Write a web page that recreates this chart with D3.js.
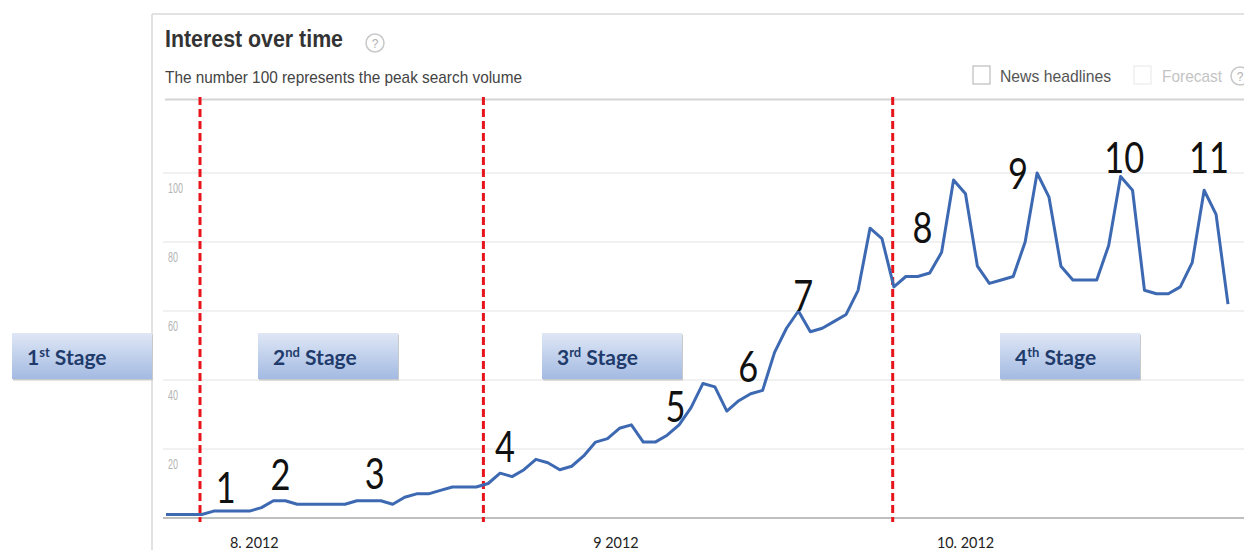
<!DOCTYPE html>
<html>
<head>
<meta charset="utf-8">
<script src="https://cdn.jsdelivr.net/npm/d3@7"></script>
<style>
  body { margin: 0; background: #fff; }
  svg { display: block; }
</style>
</head>
<body>
<div id="chart"></div>
<script>
// daily search interest, day 0 = 29 Jul 2012
const values = [
    1, 1, 1, 1, 2, 2, 2, 2, 3, 5,
    5, 4, 4, 4, 4, 4, 5, 5, 5, 4,
    6, 7, 7, 8, 9, 9, 9, 10, 13, 12,
    14, 17, 16, 14, 15, 18, 22, 23, 26, 27,
    22, 22, 24, 27, 32, 39, 38, 31, 34, 36,
    37, 48, 55, 60, 54, 55, 57, 59, 66, 84,
    81, 67, 70, 70, 71, 77, 98, 94, 73, 68,
    69, 70, 80, 100, 93, 73, 69, 69, 69, 79,
    99, 95, 66, 65, 65, 67, 74, 95, 88, 62
];
const yTicks = [20, 40, 60, 80, 100];
const monthLabels = ['8. 2012', '9 2012', '10. 2012'];
const monthDays = [7.4, 37.7, 67];
const stageBreaks = [2.85, 26.6, 60.9];
const stageNames = [['1', 'st'], ['2', 'nd'], ['3', 'rd'], ['4', 'th']];
const annotLabels = ['1', '2', '3', '4', '5', '6', '7', '8', '9', '10', '11'];
const annotDays = [5.0, 9.6, 17.5, 28.4, 42.7, 48.8, 53.4, 63.4, 71.4, 80.3, 87.4];
const annotVals = [4.3, 8.1, 8.4, 16.2, 27.9, 39.4, 60.0, 79.7, 95.4, 100, 100];

const width = 1244;
const height = 550;

const x = d3.scaleLinear().domain([0, values.length - 1]).range([166, 1228]);
const y = d3.scaleLinear().domain([0, 100]).range([518, 173]);

const svg = d3.select('#chart')
    .append('svg')
    .attr('width', width)
    .attr('height', height);

const defs = svg.append('defs');
const grad = defs.append('linearGradient')
    .attr('id', 'boxGrad')
    .attr('x1', 0).attr('y1', 0).attr('x2', 0).attr('y2', 1);
grad.append('stop').attr('offset', '0%').attr('stop-color', '#dfe7f5');
grad.append('stop').attr('offset', '100%').attr('stop-color', '#a3bae2');

// frame
svg.append('line')
    .attr('x1', 152).attr('x2', width).attr('y1', 14).attr('y2', 14)
    .attr('stroke', '#d8d8d8').attr('stroke-width', 1.5);
svg.append('line')
    .attr('x1', 152).attr('x2', 152).attr('y1', 14).attr('y2', height)
    .attr('stroke', '#d8d8d8').attr('stroke-width', 1.5);
svg.append('line')
    .attr('x1', 165).attr('x2', width).attr('y1', 99.5).attr('y2', 99.5)
    .attr('stroke', '#d4d4d4').attr('stroke-width', 2);

// header
svg.append('text')
    .attr('x', 165).attr('y', 47)
    .attr('font-family', 'Liberation Sans, Arial, sans-serif')
    .attr('font-weight', 'bold')
    .attr('font-size', 23)
    .attr('fill', '#333')
    .attr('textLength', 178)
    .attr('lengthAdjust', 'spacingAndGlyphs')
    .text('Interest over time');

function helpIcon(cx, cy) {
    svg.append('circle')
        .attr('cx', cx).attr('cy', cy).attr('r', 9)
        .attr('fill', '#fff').attr('stroke', '#c8c8c8').attr('stroke-width', 1.5);
    svg.append('text')
        .attr('x', cx).attr('y', cy + 4.5)
        .attr('text-anchor', 'middle')
        .attr('font-family', 'Liberation Sans, Arial, sans-serif')
        .attr('font-size', 12)
        .attr('fill', '#b0b0b0')
        .text('?');
}
helpIcon(375, 43);
helpIcon(1240, 76);

svg.append('text')
    .attr('x', 165).attr('y', 83)
    .attr('font-family', 'Liberation Sans, Arial, sans-serif')
    .attr('font-size', 17)
    .attr('fill', '#444')
    .attr('textLength', 357)
    .attr('lengthAdjust', 'spacingAndGlyphs')
    .text('The number 100 represents the peak search volume');

// checkboxes
svg.append('rect')
    .attr('x', 973).attr('y', 66).attr('width', 17).attr('height', 18)
    .attr('fill', '#fff').attr('stroke', '#bdbdbd').attr('stroke-width', 1.2);
svg.append('text')
    .attr('x', 1000).attr('y', 82)
    .attr('font-family', 'Liberation Sans, Arial, sans-serif')
    .attr('font-size', 17)
    .attr('fill', '#555')
    .attr('textLength', 111)
    .attr('lengthAdjust', 'spacingAndGlyphs')
    .text('News headlines');
svg.append('rect')
    .attr('x', 1134).attr('y', 66).attr('width', 17).attr('height', 18)
    .attr('fill', '#fff').attr('stroke', '#ececec').attr('stroke-width', 1.2);
svg.append('text')
    .attr('x', 1162).attr('y', 82)
    .attr('font-family', 'Liberation Sans, Arial, sans-serif')
    .attr('font-size', 17)
    .attr('fill', '#c4c4c4')
    .attr('textLength', 60)
    .attr('lengthAdjust', 'spacingAndGlyphs')
    .text('Forecast');

// grid + y labels
svg.selectAll('.grid')
    .data(yTicks)
    .enter()
    .append('line')
    .attr('class', 'grid')
    .attr('x1', 163).attr('x2', width)
    .attr('y1', d => y(d)).attr('y2', d => y(d))
    .attr('stroke', '#ededed').attr('stroke-width', 1.5);

svg.selectAll('.ylab')
    .data(yTicks)
    .enter()
    .append('text')
    .attr('class', 'ylab')
    .attr('x', 168)
    .attr('y', d => y(d) + 20)
    .attr('font-family', 'Liberation Sans, Arial, sans-serif')
    .attr('font-size', 14)
    .attr('fill', '#b4b4b4')
    .attr('textLength', d => d >= 100 ? 15 : 10)
    .attr('lengthAdjust', 'spacingAndGlyphs')
    .text(d => d);

// baseline
svg.append('line')
    .attr('x1', 163).attr('x2', width)
    .attr('y1', y(0)).attr('y2', y(0))
    .attr('stroke', '#bfbfbf').attr('stroke-width', 2);

// month labels
svg.selectAll('.month')
    .data(monthLabels)
    .enter()
    .append('text')
    .attr('class', 'month')
    .attr('transform', (d, i) => `translate(${x(monthDays[i])},548) scale(0.9,1)`)
    .attr('text-anchor', 'middle')
    .attr('font-family', 'Lato, Open Sans, sans-serif')
    .attr('font-size', 16)
    .attr('fill', '#222')
    .text(d => d);

// stage boxes (between breaks)
const boxLeft = [12, 258, 542, 1000];
const boxW = 140;
const boxes = svg.selectAll('.stage')
    .data(stageNames)
    .enter()
    .append('g')
    .attr('class', 'stage')
    .attr('transform', (d, i) => `translate(${boxLeft[i]},333)`);

boxes.append('rect')
    .attr('x', 1).attr('y', 1.5)
    .attr('width', boxW).attr('height', 46)
    .attr('fill', '#c9c9c9');
boxes.append('rect')
    .attr('width', boxW).attr('height', 46)
    .attr('fill', 'url(#boxGrad)');

const stageText = boxes.append('text')
    .attr('x', 15).attr('y', 32)
    .attr('font-family', 'Lato, Open Sans, sans-serif')
    .attr('font-weight', 'bold')
    .attr('font-size', 21)
    .attr('fill', '#1f3b6b');
stageText.append('tspan').text(d => d[0]);
stageText.append('tspan')
    .attr('font-size', 13)
    .attr('dy', -8)
    .text(d => d[1]);
stageText.append('tspan')
    .attr('dy', 8)
    .text(' Stage');

// stage dividers
svg.selectAll('.divider')
    .data(stageBreaks)
    .enter()
    .append('line')
    .attr('class', 'divider')
    .attr('x1', d => x(d)).attr('x2', d => x(d))
    .attr('y1', 97).attr('y2', 522)
    .attr('stroke', '#e8141c')
    .attr('stroke-width', 3)
    .attr('stroke-dasharray', '8,4');

// interest line
const line = d3.line()
    .x((d, i) => x(i))
    .y(d => y(d));

svg.append('path')
    .datum(values)
    .attr('d', line)
    .attr('fill', 'none')
    .attr('stroke', '#3d69b2')
    .attr('stroke-width', 3)
    .attr('stroke-linejoin', 'round');

// numbered annotations
svg.selectAll('.annot')
    .data(annotLabels)
    .enter()
    .append('text')
    .attr('class', 'annot')
    .attr('transform', (d, i) => `translate(${x(annotDays[i])},${y(annotVals[i])}) scale(0.82,1)`)
    .attr('text-anchor', 'middle')
    .attr('font-family', 'Lato, Open Sans, sans-serif')
    .attr('font-size', 42)
    .attr('fill', '#111')
    .text(d => d);
</script>
</body>
</html>
